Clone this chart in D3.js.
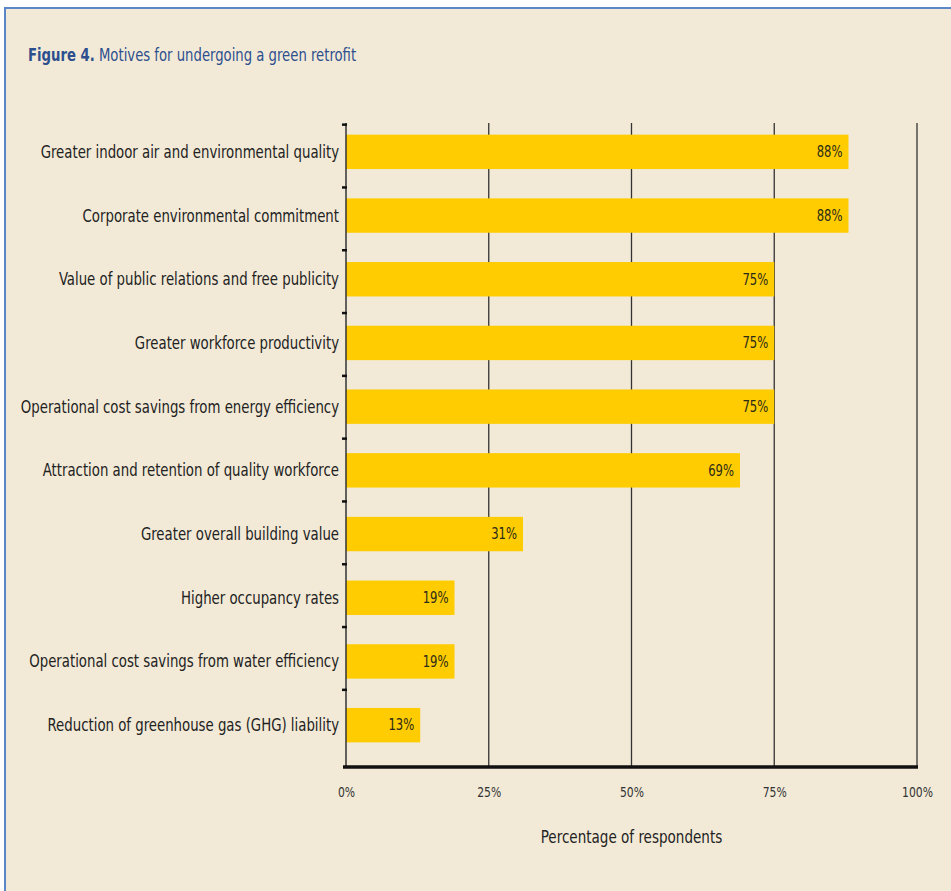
<!DOCTYPE html>
<html>
<head>
<meta charset="utf-8">
<script src="https://cdn.jsdelivr.net/npm/d3@7"></script>
<style>
  body { margin: 0; background: #fff; }
  text { font-family: "Liberation Sans Narrow", "DejaVu Sans Condensed", sans-serif; }
</style>
</head>
<body>
<script>
var width = 951,
    height = 891,
    axisTop = 123,
    axisBottom = 767,
    squeeze = 0.86   // narrow the condensed font a bit more
;

// data
var categories = [
    "Greater indoor air and environmental quality",
    "Corporate environmental commitment",
    "Value of public relations and free publicity",
    "Greater workforce productivity",
    "Operational cost savings from energy efficiency",
    "Attraction and retention of quality workforce",
    "Greater overall building value",
    "Higher occupancy rates",
    "Operational cost savings from water efficiency",
    "Reduction of greenhouse gas (GHG) liability"
];
var values = [88, 88, 75, 75, 75, 69, 31, 19, 19, 13];
var xTicks = [0, 25, 50, 75, 100];

var svg = d3.select("body").append("svg")
    .attr("width", width)
    .attr("height", height)
;

// background panel with blue border top/left
svg.append("rect")
    .attr("x", 5).attr("y", 8)
    .attr("width", width).attr("height", height)
    .attr("fill", "#f2ead7")
;
svg.append("path")
    .attr("d", `M5,${height} V8 H${width}`)
    .attr("fill", "none")
    .attr("stroke", "#5b86c8")
    .attr("stroke-width", 2)
;

// title
var title = svg.append("text")
    .attr("transform", `translate(28,61) scale(0.84,1)`)
    .attr("font-size", 17.5)
    .attr("fill", "#2d4f8e")
;
title.append("tspan").attr("font-weight", "bold").text("Figure 4.");
title.append("tspan").text(" Motives for undergoing a green retrofit");

var x = d3.scaleLinear()
    .domain([0, 100])
    .range([346, 917])
;

var y = d3.scaleBand()
    .domain(categories)
    .range([120, 757])
    .paddingInner(0.46)
    .paddingOuter(0.23)
;

// vertical grid lines
svg.append("g")
    .selectAll("line")
    .data(xTicks.slice(1))
    .join("line")
    .attr("x1", d => x(d)).attr("x2", d => x(d))
    .attr("y1", axisTop).attr("y2", axisBottom)
    .attr("stroke", "#333")
    .attr("stroke-width", 1.3)
;

// bars
svg.append("g")
    .selectAll("rect")
    .data(values)
    .join("rect")
    .attr("x", x(0))
    .attr("y", (d, i) => y(categories[i]))
    .attr("width", d => x(d) - x(0))
    .attr("height", y.bandwidth())
    .attr("fill", "#fecc00")
;

// value labels
svg.append("g")
    .selectAll("text")
    .data(values)
    .join("text")
    .attr("transform", (d, i) => `translate(${x(d) - 6},${y(categories[i]) + y.bandwidth() / 2}) scale(${squeeze},1)`)
    .attr("dy", "0.35em")
    .attr("text-anchor", "end")
    .attr("font-size", 15)
    .attr("fill", "#2a2a1a")
    .text(d => d + "%")
;

// left axis
svg.append("line")
    .attr("x1", x(0)).attr("x2", x(0))
    .attr("y1", axisTop).attr("y2", axisBottom)
    .attr("stroke", "#333")
    .attr("stroke-width", 1.5)
;
svg.append("g")
    .selectAll("line")
    .data(categories)
    .join("line")
    .attr("x1", x(0) - 4).attr("x2", x(0) + 1)
    .attr("y1", (d, i) => y(d) - 10 - i * 0.9)
    .attr("y2", (d, i) => y(d) - 10 - i * 0.9)
    .attr("stroke", "#111")
    .attr("stroke-width", 2.5)
;

// category labels
svg.append("g")
    .selectAll("text")
    .data(categories)
    .join("text")
    .attr("transform", d => `translate(${x(0) - 7},${y(d) + y.bandwidth() / 2}) scale(0.87,1)`)
    .attr("dy", "0.35em")
    .attr("text-anchor", "end")
    .attr("font-size", 17)
    .attr("fill", "#222")
    .text(d => d)
;

// bottom axis
var xAxis = d3.axisBottom(x)
    .tickValues(xTicks)
    .tickSize(0)
    .tickPadding(20)
    .tickFormat(d => d + "%")
;
var gx = svg.append("g")
    .attr("transform", `translate(0,${axisBottom})`)
    .call(xAxis)
;
gx.attr("font-family", null);
gx.select(".domain")
    .attr("stroke", "#111")
    .attr("stroke-width", 3.5)
    .attr("d", `M${x(0) - 3},0H${x(100) + 1}`)
;
gx.selectAll(".tick text")
    .attr("font-size", 14)
    .attr("fill", "#333")
    .attr("transform", `scale(${squeeze},1)`)
    .attr("x", function () {
        // undo the squeeze on the tick position (tick g carries x already, so nothing to shift)
        return 0;
    })
;

svg.append("text")
    .attr("transform", `translate(${(x(0) + x(100)) / 2},843) scale(${squeeze},1)`)
    .attr("text-anchor", "middle")
    .attr("font-size", 17.5)
    .attr("fill", "#222")
    .text("Percentage of respondents")
;
</script>
</body>
</html>
